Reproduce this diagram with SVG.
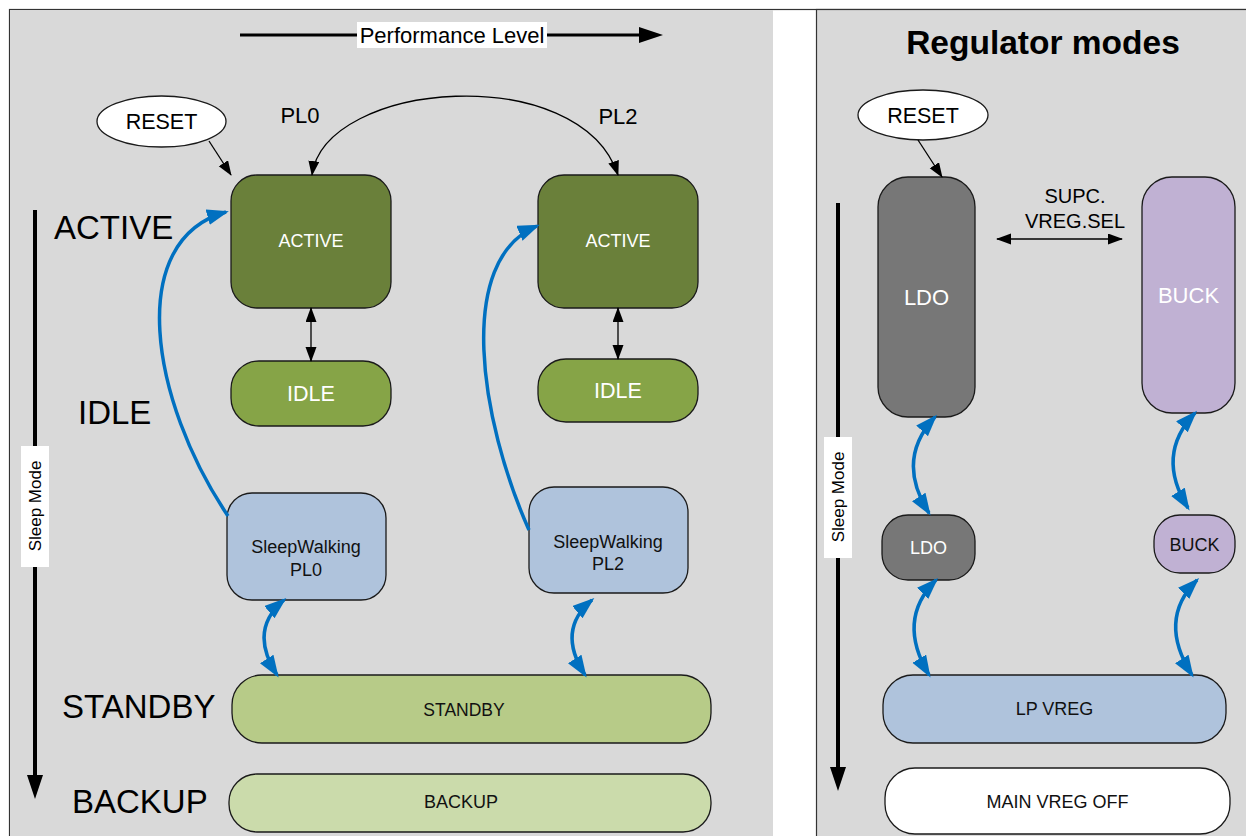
<svg xmlns="http://www.w3.org/2000/svg" width="1246" height="836" viewBox="0 0 1246 836">
<style>
text{font-family:"Liberation Sans",Arial,sans-serif;}
.node{stroke:#1a1a1a;stroke-width:1.3;}
.thin{fill:none;stroke:#000;stroke-width:1.3;}
.blue{fill:none;stroke:#0070c0;stroke-width:3.5;}
.big{font-size:33px;fill:#000;}
.lbl{text-anchor:middle;}
</style>
<defs>
<marker id="ah" markerUnits="userSpaceOnUse" markerWidth="16" markerHeight="12" refX="14" refY="5.5" orient="auto-start-reverse">
<path d="M0,0 L15,5.5 L0,11 z" fill="#000"/>
</marker>
<marker id="bh" markerUnits="userSpaceOnUse" markerWidth="24" markerHeight="18" refX="19" refY="8" orient="auto-start-reverse">
<path d="M0,0 L22,8 L0,16 z" fill="#0070c0"/>
</marker>
<marker id="kh" markerUnits="userSpaceOnUse" markerWidth="26" markerHeight="18" refX="1" refY="8" orient="auto">
<path d="M0,0 L24,8 L0,16 z" fill="#000"/>
</marker>
</defs>

<!-- frames -->
<rect x="9.5" y="9.5" width="1250" height="840" fill="#fff" stroke="#333" stroke-width="1.2"/>
<rect x="10" y="10" width="763" height="826" fill="#d9d9d9"/>
<rect x="816.5" y="9.5" width="440" height="840" fill="#d9d9d9" stroke="#333" stroke-width="1.2"/>

<!-- axis indicators -->
<g id="perf-axis">
<line x1="240" y1="35" x2="640" y2="35" stroke="#000" stroke-width="3" marker-end="url(#kh)"/>
<rect x="357" y="22" width="190" height="26" fill="#fff"/>
<text x="452" y="43" font-size="22" class="lbl">Performance Level</text>
</g>
<g id="sleep-axis-left">
<line x1="35" y1="210" x2="35" y2="776" stroke="#000" stroke-width="4" marker-end="url(#kh)"/>
<rect x="21" y="446" width="28" height="121" fill="#fff"/>
<text transform="translate(41,506) rotate(-90)" font-size="17" class="lbl">Sleep Mode</text>
</g>
<g id="sleep-axis-right">
<line x1="838" y1="203" x2="838" y2="768" stroke="#000" stroke-width="4" marker-end="url(#kh)"/>
<rect x="824" y="437" width="28" height="121" fill="#fff"/>
<text transform="translate(844,497) rotate(-90)" font-size="17" class="lbl">Sleep Mode</text>
</g>

<!-- left labels -->
<g id="mode-labels">
<text x="54" y="239" class="big">ACTIVE</text>
<text x="78" y="424" class="big">IDLE</text>
<text x="62" y="718" class="big">STANDBY</text>
<text x="72" y="813" class="big">BACKUP</text>
<text x="300" y="123" font-size="22" class="lbl">PL0</text>
<text x="618" y="124" font-size="22" class="lbl">PL2</text>
<text x="1043" y="54" font-size="33.5" font-weight="bold" class="lbl">Regulator modes</text>
<text x="1075" y="203" font-size="20" class="lbl">SUPC.</text>
<text x="1075" y="228" font-size="20" class="lbl">VREG.SEL</text>
</g>

<!-- nodes -->
<g id="reset-left">
<ellipse cx="161.5" cy="121.5" rx="64.5" ry="25.5" fill="#fff" class="node"/>
<text x="161.5" y="129" font-size="21.5" class="lbl">RESET</text>
</g>
<g id="active-pl0">
<rect x="231" y="175" width="160" height="133" rx="26" fill="#6a803a" class="node"/>
<text x="311" y="247" font-size="18" fill="#fff" class="lbl">ACTIVE</text>
</g>
<g id="active-pl2">
<rect x="538" y="175" width="160" height="133" rx="26" fill="#6a803a" class="node"/>
<text x="618" y="247" font-size="18" fill="#fff" class="lbl">ACTIVE</text>
</g>
<g id="idle-pl0">
<rect x="231" y="361" width="160" height="65" rx="28" fill="#86a447" class="node"/>
<text x="311" y="401" font-size="21.5" fill="#fff" class="lbl">IDLE</text>
</g>
<g id="idle-pl2">
<rect x="538" y="359" width="160" height="63" rx="28" fill="#86a447" class="node"/>
<text x="618" y="398" font-size="21.5" fill="#fff" class="lbl">IDLE</text>
</g>
<g id="sw-pl0">
<rect x="227" y="493" width="159" height="107" rx="25" fill="#afc3dc" class="node"/>
<text x="306" y="553" font-size="18" fill="#111" class="lbl">SleepWalking</text>
<text x="306" y="576" font-size="18" fill="#111" class="lbl">PL0</text>
</g>
<g id="sw-pl2">
<rect x="529" y="487" width="159" height="106" rx="25" fill="#afc3dc" class="node"/>
<text x="608" y="548" font-size="18" fill="#111" class="lbl">SleepWalking</text>
<text x="608" y="570" font-size="18" fill="#111" class="lbl">PL2</text>
</g>
<g id="standby">
<rect x="232" y="675" width="479" height="68" rx="30" fill="#b7cb88" class="node"/>
<text x="464" y="716" font-size="17.5" fill="#111" class="lbl">STANDBY</text>
</g>
<g id="backup">
<rect x="229" y="774" width="482" height="58" rx="28" fill="#cbdbab" class="node"/>
<text x="461" y="808" font-size="18" fill="#111" class="lbl">BACKUP</text>
</g>

<g id="reset-right">
<ellipse cx="923" cy="115" rx="65" ry="25" fill="#fff" class="node"/>
<text x="923" y="122.5" font-size="21.5" class="lbl">RESET</text>
</g>
<g id="ldo-main">
<rect x="878" y="177" width="97" height="240" rx="30" fill="#777777" class="node"/>
<text x="926.5" y="305" font-size="22" fill="#fff" class="lbl">LDO</text>
</g>
<g id="buck-main">
<rect x="1142" y="177" width="93" height="236" rx="30" fill="#c0b1d3" class="node"/>
<text x="1188.5" y="303" font-size="22" fill="#fff" class="lbl">BUCK</text>
</g>
<g id="ldo-sleep">
<rect x="882" y="515" width="93" height="65" rx="26" fill="#777777" class="node"/>
<text x="928.5" y="554" font-size="18" fill="#fff" class="lbl">LDO</text>
</g>
<g id="buck-sleep">
<rect x="1154" y="515" width="81" height="58" rx="26" fill="#c0b1d3" class="node"/>
<text x="1194.5" y="551" font-size="18" fill="#111" class="lbl">BUCK</text>
</g>
<g id="lp-vreg">
<rect x="883" y="675" width="343" height="68" rx="30" fill="#afc3dc" class="node"/>
<text x="1054.5" y="715" font-size="18" fill="#111" class="lbl">LP VREG</text>
</g>
<g id="main-vreg-off">
<rect x="885" y="768" width="345" height="66" rx="30" fill="#fff" class="node"/>
<text x="1057.5" y="808" font-size="18" fill="#111" class="lbl">MAIN VREG OFF</text>
</g>

<!-- connectors -->
<g id="connectors">
<path class="thin" d="M209,141 L231,175" marker-end="url(#ah)"/>
<path class="thin" d="M312,175 C325,80 580,60 618,175" marker-start="url(#ah)" marker-end="url(#ah)"/>
<path class="thin" d="M311,308 L311,361" marker-start="url(#ah)" marker-end="url(#ah)"/>
<path class="thin" d="M618,308 L618,359" marker-start="url(#ah)" marker-end="url(#ah)"/>
<path class="blue" d="M228,516 C150,400 125,240 226,212" marker-end="url(#bh)"/>
<path class="blue" d="M529,530 C480,420 455,260 537,226" marker-end="url(#bh)"/>
<path class="blue" d="M284,600 Q248,630 277,675" marker-start="url(#bh)" marker-end="url(#bh)"/>
<path class="blue" d="M592,600 Q556,630 585,675" marker-start="url(#bh)" marker-end="url(#bh)"/>
<path class="thin" d="M918,140 L942,177" marker-end="url(#ah)"/>
<path class="thin" d="M997,239 L1122,239" marker-start="url(#ah)" marker-end="url(#ah)"/>
<path class="blue" d="M935,417 Q895,460 929,513" marker-start="url(#bh)" marker-end="url(#bh)"/>
<path class="blue" d="M936,580 Q896,620 929,675" marker-start="url(#bh)" marker-end="url(#bh)"/>
<path class="blue" d="M1195,413 Q1155,455 1188,508" marker-start="url(#bh)" marker-end="url(#bh)"/>
<path class="blue" d="M1197,580 Q1157,620 1192,675" marker-start="url(#bh)" marker-end="url(#bh)"/>
</g>
</svg>
